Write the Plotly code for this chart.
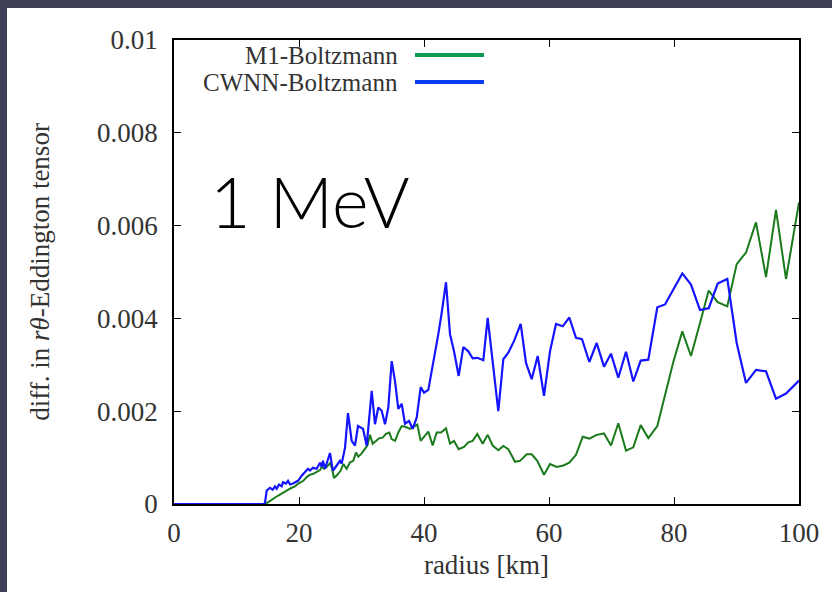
import plotly.graph_objects as go

# M1-Boltzmann difference in the r-theta Eddington tensor
radius_m1 = [0, 14.56, 15.09, 15.63, 16.16, 16.69, 17.23, 17.76, 18.29, 18.83, 19.36, 19.89,
             20.27, 20.69, 21.23, 21.76, 22.29, 22.83, 23.36, 23.63, 24.0, 24.43, 24.96, 25.23,
             25.6, 26.13, 26.67, 27.09, 27.63, 28.16, 28.69, 29.12, 29.49, 30.03, 30.56, 30.93,
             31.36, 31.79, 32.32, 32.85, 33.39, 33.92, 34.45, 34.83, 35.36, 35.89, 36.43, 37.12,
             37.76, 38.4, 38.93, 39.47, 40.16, 40.69, 41.39, 42.03, 42.72, 43.52, 44.16, 44.8,
             45.55, 46.4, 47.09, 47.79, 48.53, 49.39, 50.19, 50.99, 51.89, 52.69, 53.49, 54.56,
             55.36, 56.43, 57.23, 58.13, 59.2, 60.16, 61.23, 62.29, 63.25, 64.32, 65.39, 66.45,
             67.63, 68.8, 69.92, 71.09, 72.32, 73.49, 74.67, 75.89, 77.33, 78.56, 79.89, 81.33,
             82.72, 84.16, 85.55, 86.99, 88.53, 90.03, 91.52, 93.12, 94.72, 96.32, 97.92, 100.0]
diff_m1 = [0, 0, 0.00004, 0.0001, 0.00014, 0.00018, 0.00023, 0.00027, 0.00031, 0.00035, 0.00038, 0.00044,
           0.00047, 0.0005, 0.00058, 0.00063, 0.00065, 0.0007, 0.00073, 0.0008, 0.00076, 0.0008, 0.00088, 0.00079,
           0.00056, 0.00063, 0.00072, 0.00086, 0.00076, 0.0009, 0.00093, 0.00111, 0.00102, 0.00109, 0.00118, 0.00126,
           0.00149, 0.0013, 0.00136, 0.00142, 0.00143, 0.00151, 0.00154, 0.0014, 0.00136, 0.00154, 0.00168, 0.00166,
           0.00162, 0.00166, 0.00171, 0.00136, 0.00147, 0.00156, 0.00126, 0.00154, 0.00154, 0.00163, 0.0013, 0.00136,
           0.00118, 0.00123, 0.00133, 0.00136, 0.00151, 0.0013, 0.00149, 0.00126, 0.00116, 0.00125, 0.00118, 0.00091,
           0.00093, 0.00107, 0.00107, 0.00093, 0.00063, 0.00086, 0.0008, 0.00083, 0.00089, 0.00106, 0.00145, 0.00141,
           0.00149, 0.00152, 0.00126, 0.00174, 0.00115, 0.00122, 0.0017, 0.00142, 0.00168, 0.00235, 0.00306, 0.00372,
           0.00319, 0.0039, 0.0046, 0.00435, 0.00426, 0.00517, 0.00542, 0.00607, 0.00489, 0.00634, 0.00485, 0.0065]

# CWNN-Boltzmann difference in the r-theta Eddington tensor
radius_cwnn = [0, 14.4, 14.56, 14.83, 15.36, 15.79, 16.16, 16.43, 16.8, 17.23, 17.44, 17.92, 18.24,
               18.56, 19.04, 19.84, 20.43, 20.96, 21.44, 21.76, 22.24, 22.83, 23.36, 23.63, 23.84,
               24.16, 24.64, 24.96, 25.23, 25.44, 26.03, 26.56, 26.83, 27.36, 27.84, 28.43, 28.96,
               29.44, 30.24, 30.83, 31.63, 32.16, 32.69, 33.23, 33.76, 34.29, 34.83, 35.36, 35.89,
               36.43, 36.96, 37.6, 38.19, 38.83, 39.47, 40.0, 40.69, 41.49, 42.29, 42.83, 43.52,
               44.16, 44.8, 45.55, 46.29, 47.09, 47.79, 48.53, 49.49, 50.19, 50.99, 51.89, 52.69,
               53.49, 54.4, 55.47, 56.32, 57.23, 58.19, 59.2, 60.16, 61.12, 62.19, 63.25, 64.32,
               65.28, 66.45, 67.63, 68.8, 69.92, 71.09, 72.32, 73.49, 74.67, 75.89, 77.33, 78.56,
               79.89, 81.33, 82.72, 84.16, 85.55, 86.99, 88.53, 90.03, 91.52, 93.12, 94.72, 96.32,
               97.92, 100.0]
diff_cwnn = [0, 0, 0.00003, 0.00029, 0.00035, 0.00031, 0.00038, 0.00033, 0.00042, 0.00038, 0.00047, 0.00044, 0.0005,
             0.00042, 0.00044, 0.0005, 0.00061, 0.0007, 0.00076, 0.00072, 0.00078, 0.00076, 0.00089, 0.0008, 0.00093,
             0.00076, 0.001, 0.0011, 0.00087, 0.00072, 0.00083, 0.00093, 0.00087, 0.00121, 0.00196, 0.00136, 0.00126,
             0.00168, 0.00162, 0.00126, 0.00244, 0.00172, 0.00208, 0.00201, 0.00172, 0.00208, 0.00308, 0.00265, 0.00205,
             0.00216, 0.00173, 0.00179, 0.00162, 0.00186, 0.00252, 0.0024, 0.00246, 0.00302, 0.00366, 0.00412, 0.00478,
             0.00366, 0.00329, 0.00276, 0.00338, 0.00329, 0.00314, 0.00315, 0.0031, 0.00401, 0.00308, 0.002, 0.00312,
             0.00326, 0.00351, 0.00388, 0.00304, 0.00269, 0.00319, 0.00233, 0.00329, 0.00388, 0.00383, 0.00402, 0.00358,
             0.00355, 0.00306, 0.00347, 0.00296, 0.00324, 0.00272, 0.00328, 0.00264, 0.00309, 0.00311, 0.00424, 0.0043,
             0.00462, 0.00497, 0.00473, 0.00418, 0.00422, 0.00475, 0.00485, 0.00347, 0.00261, 0.00289, 0.00286, 0.00227,
             0.00238, 0.00266]

x_ticks = [0, 20, 40, 60, 80, 100]
y_ticks = [0, 0.002, 0.004, 0.006, 0.008, 0.01]
y_tick_text = ["0", "0.002", "0.004", "0.006", "0.008", "0.01"]

series_names = ["M1-Boltzmann", "CWNN-Boltzmann"]
line_colors = ["#1b7a1b", "#1414ff"]
key_colors = ["#0c9a52", "#0a3cf5"]

SERIF = "Liberation Serif"
TEXT = "#333333"
FS = 27
KEY_FS = 25

fig = go.Figure()
fig.add_trace(go.Scatter(x=radius_m1, y=diff_m1, mode="lines", name=series_names[0],
                         line=dict(color=line_colors[0], width=2)))
fig.add_trace(go.Scatter(x=radius_cwnn, y=diff_cwnn, mode="lines", name=series_names[1],
                         line=dict(color=line_colors[1], width=2.2)))

axis_common = dict(showline=True, linecolor="black", linewidth=1.5, mirror="ticks",
                   ticks="inside", ticklen=7, tickcolor="black", tickwidth=1,
                   showgrid=False, zeroline=False,
                   tickfont=dict(family=SERIF, size=FS, color=TEXT))

fig.update_xaxes(range=[0, 100], tickvals=x_ticks, ticklabelstandoff=4,
                 title=dict(text="radius [km]", font=dict(family=SERIF, size=FS, color=TEXT), standoff=8),
                 **axis_common)
fig.update_yaxes(range=[0, 0.01], tickvals=y_ticks, ticktext=y_tick_text, ticklabelstandoff=9,
                 title=dict(text="diff. in <i>rθ</i>-Eddington tensor",
                            font=dict(family=SERIF, size=FS, color=TEXT), standoff=40),
                 **axis_common)

# key drawn at the top-left of the frame: right-aligned names followed by line samples
key_y = [(504 - 55) / 464, (504 - 82) / 464]
shapes = []
annotations = []
for name, col, ky in zip(series_names, key_colors, key_y):
    annotations.append(dict(x=0.3616, y=ky, xref="paper", yref="paper", text=name,
                            showarrow=False, xanchor="right", yanchor="middle",
                            font=dict(family=SERIF, size=KEY_FS, color=TEXT)))
    shapes.append(dict(type="line", xref="paper", yref="paper", x0=0.3856, x1=0.496,
                       y0=ky, y1=ky, line=dict(color=col, width=4)))

annotations.append(dict(x=0.054, y=0.652, xref="paper", yref="paper", text="1 MeV",
                        showarrow=False, xanchor="left", yanchor="middle",
                        font=dict(family="Lato", size=70, color="black", weight=300)))

# slide frame along the top and left edges
shapes.append(dict(type="rect", xref="paper", yref="paper", x0=-0.3, x1=1.1,
                   y0=(504 - 8) / 464, y1=1.2, fillcolor="#3e4057", line=dict(width=0), layer="above"))
shapes.append(dict(type="rect", xref="paper", yref="paper", x0=-0.3, x1=(7 - 174) / 625,
                   y0=-0.3, y1=1.2, fillcolor="#3e4057", line=dict(width=0), layer="above"))

fig.update_layout(width=832, height=592, margin=dict(l=174, r=33, t=40, b=88),
                  paper_bgcolor="white", plot_bgcolor="white", showlegend=False,
                  shapes=shapes, annotations=annotations)

fig.write_html("out.html")
